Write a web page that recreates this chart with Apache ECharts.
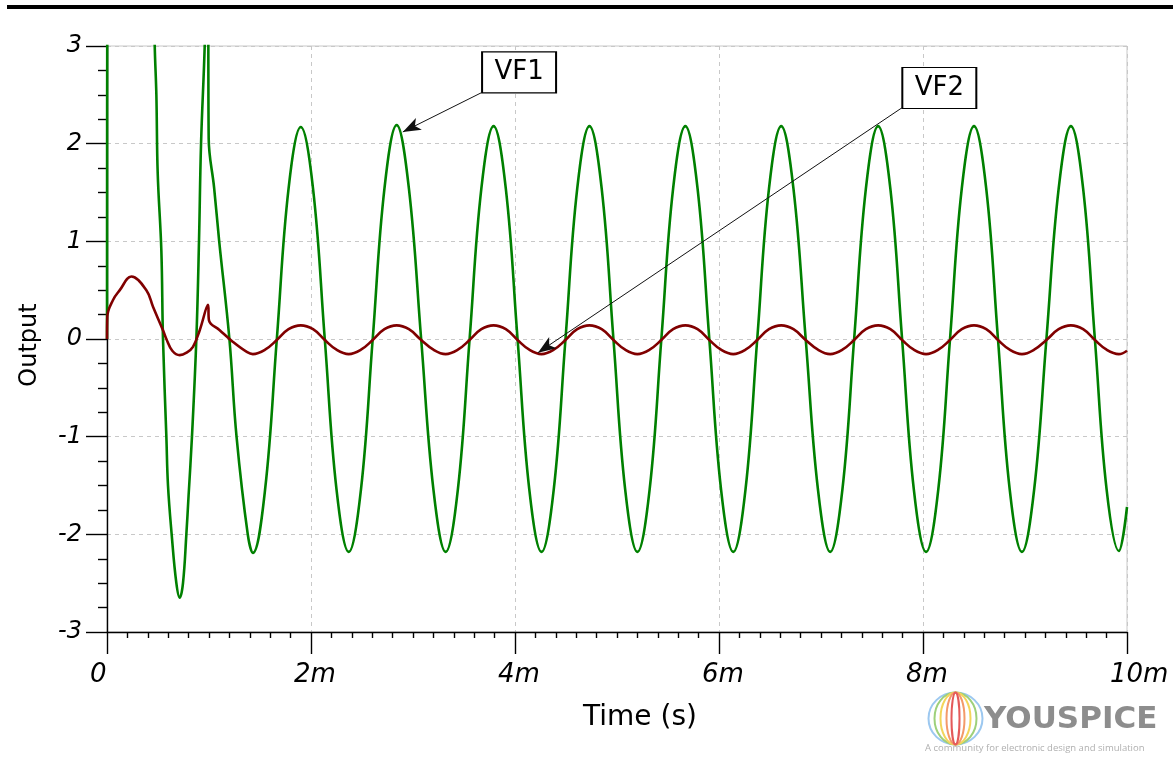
<!DOCTYPE html>
<html>
<head>
<meta charset="utf-8">
<script src="https://cdn.jsdelivr.net/npm/echarts@6/dist/echarts.min.js"></script>
<style>
  html, body { margin: 0; padding: 0; background: #fff; }
  #chart { width: 1173px; height: 757px; }
</style>
</head>
<body>
<div id="chart"></div>
<script>
// x = time in ms, y = output
var xTickLabels = ['0', '2m', '4m', '6m', '8m', '10m'];

var vf1Points = [
  [0, 0], [0.003, 3.5], [0.05, 6.5], [0.25, 8], [0.42, 5.5], [0.468, 3.0], [0.484, 2.5], [0.497, 1.7],
  [0.533, 0.9], [0.549, 0], [0.582, -1.0], [0.598, -1.5], [0.634, -2.0], [0.68, -2.5], [0.713, -2.65],
  [0.745, -2.5], [0.778, -2.0], [0.80, -1.6], [0.833, -1.0], [0.876, 0], [0.902, 1.0], [0.922, 2.0],
  [0.958, 3.0], [0.975, 3.8], [0.99, 3.8], [0.997, 2.05], [1.05, 1.55], [1.10, 1.0], [1.20, 0],
  [1.27, -1.0], [1.38, -2.0],
  [1.43, -2.19], [1.55, -1.54], [1.665, 0], [1.78, 1.54], [1.90, 2.17], [2.02, 1.54], [2.135, 0], [2.25, -1.54],
  [2.37, -2.18], [2.49, -1.54], [2.605, 0], [2.72, 1.54], [2.84, 2.19], [2.96, 1.54], [3.08, 0], [3.20, -1.54],
  [3.32, -2.18], [3.44, -1.54], [3.555, 0], [3.67, 1.54], [3.79, 2.18], [3.91, 1.54], [4.025, 0], [4.14, -1.54],
  [4.26, -2.18], [4.38, -1.54], [4.495, 0], [4.61, 1.54], [4.73, 2.18], [4.85, 1.54], [4.965, 0], [5.08, -1.54],
  [5.20, -2.18], [5.32, -1.54], [5.435, 0], [5.55, 1.54], [5.67, 2.18], [5.79, 1.54], [5.905, 0], [6.02, -1.54],
  [6.14, -2.18], [6.26, -1.54], [6.375, 0], [6.49, 1.54], [6.61, 2.18], [6.73, 1.54], [6.85, 0], [6.97, -1.54],
  [7.09, -2.18], [7.21, -1.54], [7.325, 0], [7.44, 1.54], [7.56, 2.18], [7.68, 1.54], [7.795, 0], [7.91, -1.54],
  [8.03, -2.18], [8.15, -1.54], [8.265, 0], [8.38, 1.54], [8.50, 2.18], [8.62, 1.54], [8.735, 0], [8.85, -1.54],
  [8.97, -2.18], [9.09, -1.54], [9.21, 0], [9.33, 1.54], [9.45, 2.18], [9.57, 1.54], [9.685, 0], [9.80, -1.54],
  [9.92, -2.17], [10.0, -1.72]
];

var vf2Points = [
  [0, 0], [0.003, 0.23], [0.059, 0.40], [0.125, 0.50], [0.239, 0.64], [0.386, 0.50], [0.451, 0.33],
  [0.549, 0.09], [0.582, 0], [0.64, -0.12], [0.713, -0.165], [0.78, -0.14], [0.843, -0.08], [0.909, 0.09],
  [0.99, 0.35], [1.0, 0.19], [1.105, 0.09], [1.235, -0.03], [1.367, -0.13],
  [1.43, -0.155], [1.55, -0.11], [1.665, -0.01], [1.78, 0.10], [1.90, 0.14], [2.02, 0.10], [2.135, -0.01], [2.25, -0.11],
  [2.37, -0.155], [2.49, -0.11], [2.605, -0.01], [2.72, 0.10], [2.84, 0.14], [2.96, 0.10], [3.08, -0.01], [3.20, -0.11],
  [3.32, -0.155], [3.44, -0.11], [3.555, -0.01], [3.67, 0.10], [3.79, 0.14], [3.91, 0.10], [4.025, -0.01], [4.14, -0.11],
  [4.26, -0.155], [4.38, -0.11], [4.495, -0.01], [4.61, 0.10], [4.73, 0.14], [4.85, 0.10], [4.965, -0.01], [5.08, -0.11],
  [5.20, -0.155], [5.32, -0.11], [5.435, -0.01], [5.55, 0.10], [5.67, 0.14], [5.79, 0.10], [5.905, -0.01], [6.02, -0.11],
  [6.14, -0.155], [6.26, -0.11], [6.375, -0.01], [6.49, 0.10], [6.61, 0.14], [6.73, 0.10], [6.85, -0.01], [6.97, -0.11],
  [7.09, -0.155], [7.21, -0.11], [7.325, -0.01], [7.44, 0.10], [7.56, 0.14], [7.68, 0.10], [7.795, -0.01], [7.91, -0.11],
  [8.03, -0.155], [8.15, -0.11], [8.265, -0.01], [8.38, 0.10], [8.50, 0.14], [8.62, 0.10], [8.735, -0.01], [8.85, -0.11],
  [8.97, -0.155], [9.09, -0.11], [9.21, -0.01], [9.33, 0.10], [9.45, 0.14], [9.57, 0.10], [9.685, -0.01], [9.80, -0.11],
  [9.92, -0.155], [10.0, -0.12]
];

// callout labels: box centre and arrow (from box corner to the trace)
var vf1Box = [4.04, 2.73];
var vf1Arrow = [[3.667, 2.52], [2.90, 2.12]];
var vf2Box = [8.16, 2.57];
var vf2Arrow = [[7.79, 2.365], [4.225, -0.14]];

var tickFont = { fontFamily: 'DejaVu Sans', fontStyle: 'italic', color: '#000' };

function callout(name, box, arrow) {
  return {
    markPoint: {
      silent: true,
      animation: false,
      symbol: 'rect',
      symbolSize: [74, 41],
      itemStyle: { color: '#fff', borderColor: '#000', borderWidth: 1.5 },
      label: { show: true, position: 'inside', formatter: name, color: '#000', fontSize: 26, fontFamily: 'DejaVu Sans' },
      data: [{ name: name, coord: box }]
    },
    markLine: {
      silent: true,
      animation: false,
      symbol: ['none', 'arrow'],
      symbolSize: [10, 18],
      label: { show: false },
      lineStyle: { color: '#111', width: 1, type: 'solid' },
      emphasis: { disabled: true },
      data: [[{ coord: arrow[0] }, { coord: arrow[1] }]]
    }
  };
}

var chart = echarts.init(document.getElementById('chart'));

var s1 = {
  name: 'VF1', type: 'line', data: vf1Points, smooth: 0.4, showSymbol: false,
  lineStyle: { color: '#008000', width: 2.6 }, z: 2
};
Object.assign(s1, callout('VF1', vf1Box, vf1Arrow));
var s2 = {
  name: 'VF2', type: 'line', data: vf2Points, smooth: 0.4, showSymbol: false,
  lineStyle: { color: '#800000', width: 2.6 }, z: 3
};
Object.assign(s2, callout('VF2', vf2Box, vf2Arrow));

chart.setOption({
  animation: false,
  backgroundColor: '#fff',
  grid: {
    left: 107, right: 46, top: 46, bottom: 125,
    show: true, borderColor: '#c8c8c8', borderWidth: 1
  },
  xAxis: {
    type: 'value', min: 0, max: 10, interval: 2,
    name: 'Time (s)', nameLocation: 'middle', nameGap: 72,
    nameTextStyle: { fontFamily: 'DejaVu Sans', fontSize: 28, color: '#000', padding: [0, 0, 0, 46] },
    axisLine: { show: true, onZero: false, lineStyle: { color: '#000', width: 1.4 } },
    axisTick: { show: true, length: 22, lineStyle: { color: '#000', width: 1.4 } },
    minorTick: { show: true, splitNumber: 10, length: 6, lineStyle: { color: '#000', width: 1.4 } },
    axisLabel: Object.assign({
      fontSize: 26, margin: 30, align: 'left', padding: [0, 0, 0, -17],
      formatter: function (v) { return xTickLabels[Math.round(v / 2)]; }
    }, tickFont),
    splitLine: { show: true, lineStyle: { color: '#c8c8c8', type: [4, 4], width: 1 } }
  },
  yAxis: {
    type: 'value', min: -3, max: 3, interval: 1,
    name: 'Output', nameLocation: 'middle', nameGap: 65, nameRotate: 90,
    nameTextStyle: { fontFamily: 'DejaVu Sans', fontSize: 24, color: '#000', padding: [0, 12, 0, 0] },
    axisLine: { show: true, onZero: false, lineStyle: { color: '#000', width: 1.4 } },
    axisTick: { show: true, length: 21, lineStyle: { color: '#000', width: 1.4 } },
    minorTick: { show: true, splitNumber: 4, length: 9, lineStyle: { color: '#000', width: 1.4 } },
    axisLabel: Object.assign({ fontSize: 24, margin: 25 }, tickFont),
    splitLine: { show: true, lineStyle: { color: '#c8c8c8', type: [4, 4], width: 1 } }
  },
  series: [s1, s2],
  graphic: [
    { type: 'rect', left: 7, top: 5, shape: { width: 1166, height: 4 }, style: { fill: '#000' } },
    {
      type: 'group', left: 926, top: 690,
      children: [
        { type: 'ellipse', shape: { cx: 27, cy: 26, rx: 27, ry: 26 }, style: { fill: 'none', stroke: '#9cc8f0', lineWidth: 2 } },
        { type: 'ellipse', shape: { cx: 27, cy: 26, rx: 21, ry: 26 }, style: { fill: 'none', stroke: '#9ed07a', lineWidth: 2 } },
        { type: 'ellipse', shape: { cx: 27, cy: 26, rx: 15, ry: 26 }, style: { fill: 'none', stroke: '#f3d55a', lineWidth: 2 } },
        { type: 'ellipse', shape: { cx: 27, cy: 26, rx: 9, ry: 26 }, style: { fill: 'none', stroke: '#f39a6a', lineWidth: 2 } },
        { type: 'ellipse', shape: { cx: 27, cy: 26, rx: 4, ry: 26 }, style: { fill: 'none', stroke: '#e45a5a', lineWidth: 2 } }
      ]
    },
    {
      type: 'text', left: 984, top: 704,
      style: { text: 'YOUSPICE', font: 'bold 31px "DejaVu Sans"', fill: '#8d8d8d' }
    },
    {
      type: 'text', left: 925, top: 743,
      style: { text: 'A community for electronic design and simulation', font: '9.5px "Open Sans"', fill: '#b0b0b0' }
    }
  ]
});
</script>
</body>
</html>
